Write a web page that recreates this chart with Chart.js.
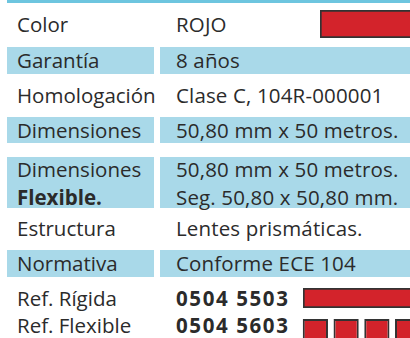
<!DOCTYPE html>
<html>
<head>
<meta charset="utf-8">
<script src="https://cdn.jsdelivr.net/npm/chart.js@4"></script>
<style>
  html, body { margin: 0; padding: 0; background: #fff; }
  body { width: 410px; height: 338px; overflow: hidden; position: relative;
         font-family: "Open Sans", sans-serif; font-size: 20.5px; color: #2b2b2b; }
  .topline { position: absolute; left: 7px; top: 0; width: 403px; height: 3px; background: #6dc5df; }
  .cell { position: absolute; box-sizing: border-box; display: flex; flex-direction: column;
          justify-content: center; line-height: 25px; white-space: nowrap; }
  .cell.doble { line-height: 28px; }
  .lab { left: 7px; width: 147px; padding-left: 10px; }
  .val { left: 160px; width: 250px; padding-left: 16px; letter-spacing: 0.15px; }
  .band { background: #a9d9e9; }
  b { font-weight: 700; }
  .val b { letter-spacing: 1.6px; }
  canvas { position: absolute; }
</style>
</head>
<body>
<div class="topline"></div>
<div id="tabla"></div>
<canvas id="swColor" width="100" height="28" style="left:320px;top:10px"></canvas>
<canvas id="swRigida" width="115" height="20" style="left:303px;top:288px"></canvas>
<canvas id="swFlexible" width="123" height="21" style="left:300px;top:319px"></canvas>
<script>
// filas de la tabla
var etiquetas = ['Color', 'Garantía', 'Homologación', 'Dimensiones', 'Dimensiones<br><b>Flexible.</b>',
                 'Estructura', 'Normativa', 'Ref. Rígida', 'Ref. Flexible'];
var valores = ['ROJO', '8 años', 'Clase C, 104R-000001', '50,80 mm x 50 metros.',
               '50,80 mm x 50 metros.<br>Seg. 50,80 x 50,80 mm.', 'Lentes prismáticas.',
               'Conforme ECE 104', '<b>0504 5503</b>', '<b>0504 5603</b>'];
var conFondo = [false, true, false, true, true, false, true, false, false];

// muestras de color
var rojo = '#d3232b';
var muestraColor = [1];
var muestraRigida = [1];
var segmentosFlexible = ['s1', 's2', 's3', 's4'];
var valoresFlexible = [1, 1, 1, 1];

// posiciones de las filas (solo maquetacion)
var filaTop = [10, 47, 81, 117, 157, 214, 250, 284, 313];
var filaAlto = [28, 27, 28, 26, 51, 28, 27, 28, 25];

var html = '';
for (var i = 0; i < etiquetas.length; i++) {
  var f = conFondo[i] ? ' band' : '';
  if (valores[i].indexOf('<br>') >= 0) f += ' doble';
  var st = 'top:' + filaTop[i] + 'px;height:' + filaAlto[i] + 'px';
  html += '<div class="cell lab' + f + '" style="' + st + '"><div>' + etiquetas[i] + '</div></div>';
  html += '<div class="cell val' + f + '" style="' + st + '"><div>' + valores[i] + '</div></div>';
}
document.getElementById('tabla').innerHTML = html;

function opcionesMuestra(horizontal) {
  return {
    indexAxis: horizontal ? 'y' : 'x',
    responsive: false,
    animation: false,
    layout: { padding: 0 },
    plugins: { legend: { display: false }, tooltip: { enabled: false } },
    scales: {
      x: horizontal ? { display: false, min: 0, max: 1 } : { display: false },
      y: horizontal ? { display: false } : { display: false, min: 0, max: 1 }
    }
  };
}

function dataset(valores, pct) {
  return {
    data: valores,
    backgroundColor: rojo,
    borderColor: '#333',
    borderWidth: 2,
    borderSkipped: false,
    categoryPercentage: 1,
    barPercentage: pct
  };
}

new Chart(document.getElementById('swColor'), {
  type: 'bar',
  data: { labels: ['ROJO'], datasets: [dataset(muestraColor, 1)] },
  options: opcionesMuestra(true)
});

new Chart(document.getElementById('swRigida'), {
  type: 'bar',
  data: { labels: ['0504 5503'], datasets: [dataset(muestraRigida, 1)] },
  options: opcionesMuestra(true)
});

new Chart(document.getElementById('swFlexible'), {
  type: 'bar',
  data: { labels: segmentosFlexible, datasets: [dataset(valoresFlexible, 0.82)] },
  options: opcionesMuestra(false)
});
</script>
</body>
</html>
